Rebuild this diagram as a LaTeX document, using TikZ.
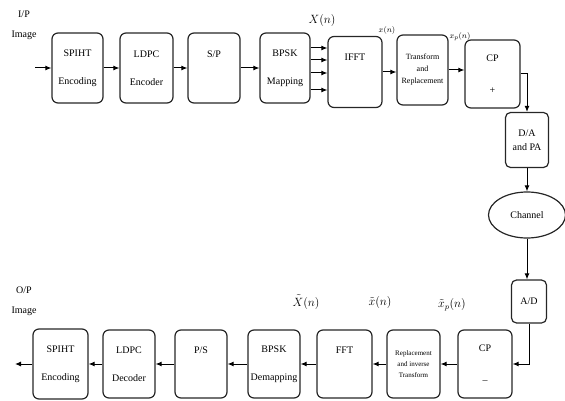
\documentclass[tikz,border=0pt]{standalone}
\usepackage{fontspec}
\setmainfont{Liberation Serif}
\usetikzlibrary{arrows.meta,shapes.geometric}

\tikzset{
  blk/.style={draw=black!85, line width=1.2pt, rounded corners=6pt, align=center,
    inner sep=1pt, font=\fontsize{10}{12}\selectfont},
  arr/.style={-{Latex[length=6pt,width=5pt]}, line width=1pt},
  sig/.style={inner sep=0pt, font=\fontsize{12}{14}\selectfont},
  small/.style={inner sep=0pt, font=\fontsize{8}{9}\selectfont}
}

\begin{document}
\begin{tikzpicture}[x=1pt, y=-1pt]
  \useasboundingbox (0,0) rectangle (565,401);

  % -- Transmitter chain --
  \node[blk, minimum width=51pt, minimum height=70pt] (spihtE) at (77.5,68) {SPIHT\\[16pt]Encoding};
  \node[blk, minimum width=53pt, minimum height=70pt] (ldpcE) at (146.5,68) {LDPC\\[16pt]Encoder};
  \node[blk, minimum width=52pt, minimum height=70pt] (sp) at (214,68) {S/P\\[16pt]\mbox{}};
  \node[blk, minimum width=50pt, minimum height=70pt] (bpskM) at (285,68) {BPSK\\[16pt]Mapping};
  \node[blk, minimum width=54pt, minimum height=71pt] (ifft) at (355,72) {IFFT\\[18pt]\mbox{}};
  \node[blk, minimum width=51pt, minimum height=70pt, font=\fontsize{8}{9}\selectfont] (trans) at (422.5,70) {Transform\\[3pt]and\\[3pt]Replacement};
  \node[blk, minimum width=55pt, minimum height=68pt] (cpa) at (492.5,74) {CP\\[20pt]+};

  % -- Channel part --
  \node[blk, minimum width=43pt, minimum height=55pt, rounded corners=5pt] (da) at (527,140) {D/A\\[2pt]and PA};
  \node[draw=black!85, line width=1.2pt, ellipse, minimum width=77pt, minimum height=46pt,
    font=\fontsize{10}{12}\selectfont] (channel) at (527,215) {Channel};
  \node[blk, minimum width=35pt, minimum height=43pt, rounded corners=5pt] (ad) at (529,301.5) {A/D};

  % -- Receiver chain --
  \node[blk, minimum width=54pt, minimum height=68pt] (cpr) at (485,364) {CP\\[20pt]--};
  \node[blk, minimum width=53pt, minimum height=68pt, font=\fontsize{7}{8}\selectfont] (repl) at (413.5,364) {Replacement\\[3pt]and inverse\\[3pt]Transform};
  \node[blk, minimum width=55pt, minimum height=68pt] (fft) at (344.5,364) {FFT\\[16pt]\mbox{}};
  \node[blk, minimum width=52pt, minimum height=68pt] (bpskD) at (274,364) {BPSK\\[16pt]Demapping};
  \node[blk, minimum width=52pt, minimum height=68pt] (ps) at (201,364) {P/S\\[16pt]\mbox{}};
  \node[blk, minimum width=52pt, minimum height=68pt] (ldpcD) at (129,364) {LDPC\\[16pt]Decoder};
  \node[blk, minimum width=55pt, minimum height=70pt] (spihtD) at (60.5,364) {SPIHT\\[16pt]Encoding};

  % -- Image in / out --
  \node[inner sep=0pt, align=center, font=\fontsize{10}{12}\selectfont] (ipimg) at (24,25) {I/P\\[8pt]Image};
  \node[inner sep=0pt, align=center, font=\fontsize{10}{12}\selectfont] (opimg) at (24,301) {O/P\\[8pt]Image};
  \coordinate (in) at (35,68);
  \coordinate (out) at (15,364);

  % -- Signal labels --
  \node[sig] (Xn) at (322,21) {$X(n)$};
  \node[small] (xn) at (387,31) {$x(n)$};
  \node[small] (xpn) at (460,37) {$x_p(n)$};
  \node[sig] (Xtn) at (306,302) {$\tilde{X}(n)$};
  \node[sig] (xtn) at (380,302) {$\tilde{x}(n)$};
  \node[sig] (xtpn) at (452,305) {$\tilde{x}_p(n)$};

  % -- Connectors, top row --
  \draw[arr] (in) -- (spihtE);
  \draw[arr] (spihtE) -- (ldpcE);
  \draw[arr] (ldpcE) -- (sp);
  \draw[arr] (sp) -- (bpskM);
  \foreach \yy in {48,60,73,90}
    \draw[arr] (bpskM.east |- 0,\yy) -- (ifft.west |- 0,\yy);
  \draw[arr] (ifft.east) -- (ifft.east -| trans.west);
  \draw[arr] (trans.east) -- (trans.east -| cpa.west);
  \draw[arr] (cpa.east) -| (da.north);

  % -- Connectors, channel --
  \draw[arr] (da.south) -- (channel.north);
  \draw[arr] (channel.south) -- (channel.south |- ad.north);
  \draw[arr] (ad.south) |- (cpr.east);

  % -- Connectors, bottom row --
  \draw[arr] (cpr) -- (repl);
  \draw[arr] (repl) -- (fft);
  \draw[arr] (fft) -- (bpskD);
  \draw[arr] (bpskD) -- (ps);
  \draw[arr] (ps) -- (ldpcD);
  \draw[arr] (ldpcD) -- (spihtD);
  \draw[arr] (spihtD) -- (out);

\end{tikzpicture}
\end{document}
